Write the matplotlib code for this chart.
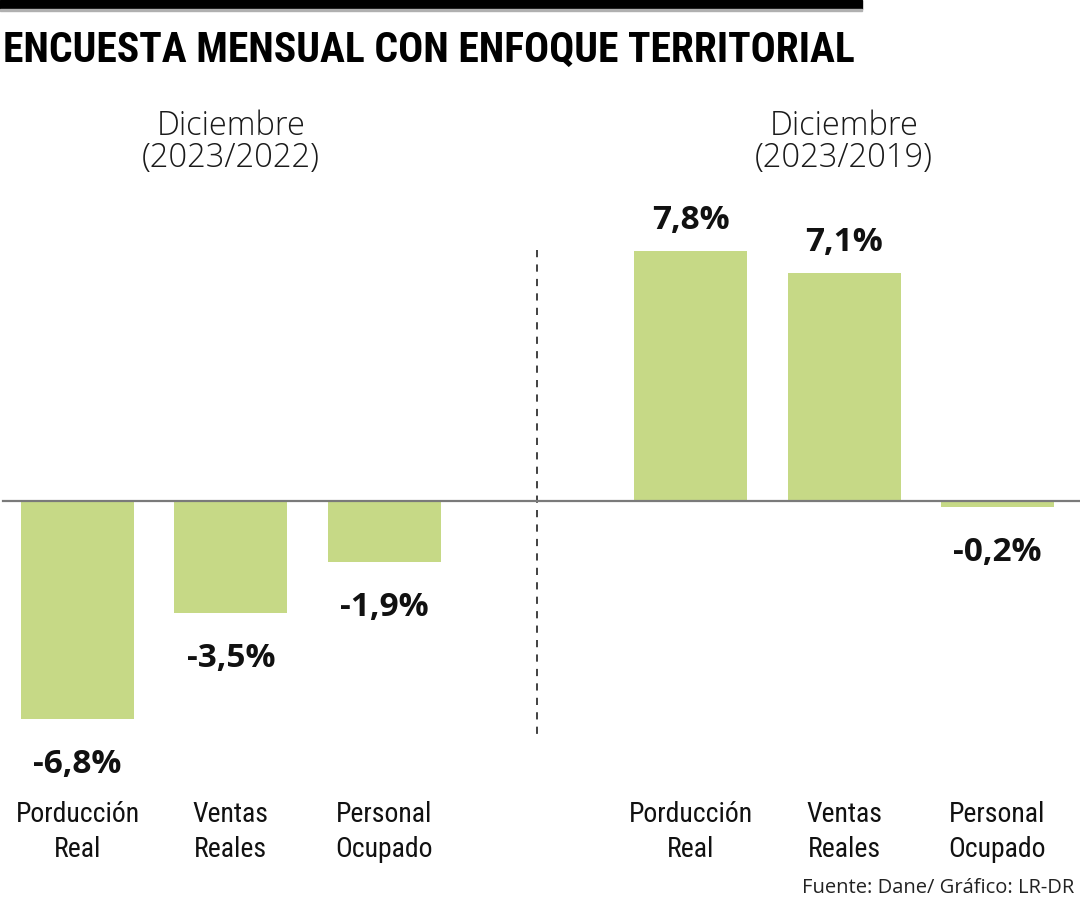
import matplotlib
matplotlib.use("Agg")
import matplotlib.pyplot as plt
from matplotlib import font_manager as fm

# ---- data ----
title = "ENCUESTA MENSUAL CON ENFOQUE TERRITORIAL"
group_titles = ["Diciembre\n(2023/2022)", "Diciembre\n(2023/2019)"]
categories = ["Porducción\nReal", "Ventas\nReales", "Personal\nOcupado"]
values_2022 = [-6.8, -3.5, -1.9]
values_2019 = [7.8, 7.1, -0.2]
source = "Fuente: Dane/ Gráfico: LR-DR"

def pick(names):
    for n in names:
        try:
            fm.findfont(fm.FontProperties(family=n), fallback_to_default=False)
            return n
        except Exception:
            pass
    return "DejaVu Sans"

narrow = pick(["Roboto Condensed", "Liberation Sans Narrow", "DejaVu Sans Condensed", "Liberation Sans"])
light = pick(["Open Sans", "Noto Sans", "DejaVu Sans"])

W, H = 1080, 900
fig = plt.figure(figsize=(W / 100, H / 100), dpi=100)
ax = fig.add_axes([0, 0, 1, 1])

slot = 153.3
x0 = 77.5
ppu = 32.1
zero_px = 501
ax.set_xlim((0 - x0) / slot, (W - x0) / slot)
ax.set_ylim(-(H - zero_px) / ppu, zero_px / ppu)
ax.axis("off")

def ypx(py):
    """pixel row (from top) -> data y"""
    return (zero_px - py) / ppu

pos_left = [0, 1, 2]
pos_right = [4, 5, 6]
color = "#C6D986"
bw = 113 / slot

ax.bar(pos_left, values_2022, width=bw, color=color, zorder=2)
ax.bar(pos_right, values_2019, width=bw, color=color, zorder=2)

# zero line
ax.axhline(0, xmin=3 / W, xmax=1, color="#7a7a7a", lw=1.6, zorder=3)
# dashed separator
ax.plot([3, 3], [ypx(250), ypx(735)], ls=(0, (4, 4)),
        color="#333333", lw=1.3, zorder=1)

def fmt(v):
    return ("%.1f%%" % v).replace(".", ",")

for p, v in zip(pos_left + pos_right, values_2022 + values_2019):
    off = 22 if v >= 0 else -54
    ax.annotate(fmt(v), (p, v), xytext=(0, off), textcoords="offset pixels",
                ha="center", va="baseline", fontsize=24, fontweight="bold",
                family=light, color="#111111")

# category labels
for p, c in zip(pos_left + pos_right, categories + categories):
    l1, l2 = c.split("\n")
    ax.text(p, ypx(822), l1, ha="center", va="baseline", fontsize=20,
            family=narrow, color="#111111")
    ax.text(p, ypx(857), l2, ha="center", va="baseline", fontsize=20,
            family=narrow, color="#111111")

# group titles
for p, t in zip([1, 5], group_titles):
    l1, l2 = t.split("\n")
    ax.text(p, ypx(135), l1, ha="center", va="baseline", fontsize=23.5,
            family=light, fontweight="light", color="#1a1a1a")
    ax.text(p, ypx(167), l2, ha="center", va="baseline", fontsize=23.5,
            family=light, fontweight="light", color="#1a1a1a")

# top black band with thin grey rule, and title
fig.patches.append(plt.Rectangle((0, 1 - 9 / H), 862 / W, 9 / H, transform=fig.transFigure,
                                 color="black", zorder=5))
fig.patches.append(plt.Rectangle((0, 1 - 11 / H), 862 / W, 1.5 / H, transform=fig.transFigure,
                                 color="#b0b0b0", zorder=5))
fig.text(3 / W, 1 - 62 / H, title, ha="left", va="baseline", fontsize=30,
         fontweight="bold", family=narrow, color="black")

fig.text(1 - 6 / W, 1 - 893 / H, source, ha="right", va="baseline", fontsize=14.5,
         family=light, color="#222222")

fig.savefig("out.png", dpi=100)
